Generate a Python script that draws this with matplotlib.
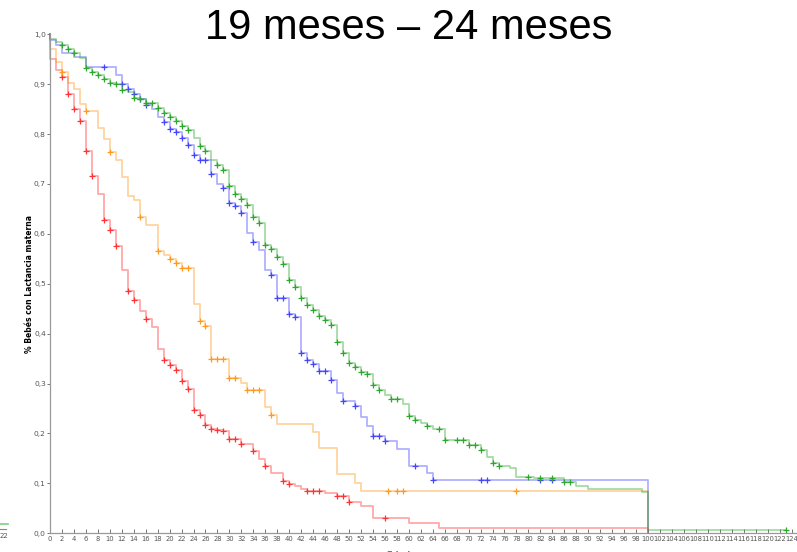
import numpy as np
import matplotlib.pyplot as plt
from matplotlib.lines import Line2D

# Kaplan-Meier curves (month of drop, survival after drop)
red_t = [0, 1, 2, 3, 4, 5, 6, 7, 8, 9, 10, 11, 12, 13, 14, 15, 16, 17, 18, 19, 20,
         21, 22, 23, 24, 25, 26, 27, 28, 29, 30, 32, 34, 35, 36, 37, 39, 40, 41, 42,
         43, 46, 48, 50, 52, 54, 60, 65, 100]
red_s = [0.950, 0.928, 0.915, 0.881, 0.851, 0.827, 0.766, 0.716, 0.680, 0.628,
         0.607, 0.575, 0.528, 0.485, 0.468, 0.445, 0.430, 0.414, 0.369, 0.348,
         0.338, 0.327, 0.305, 0.289, 0.248, 0.237, 0.217, 0.210, 0.207, 0.205,
         0.188, 0.179, 0.164, 0.148, 0.134, 0.120, 0.105, 0.098, 0.094, 0.089,
         0.085, 0.081, 0.075, 0.062, 0.054, 0.030, 0.020, 0.010, 0.0]
red_cens = [2, 3, 4, 5, 6, 7, 9, 10, 11, 13, 14, 16, 19, 20, 21, 22, 23, 24, 25, 26,
            27, 28, 29, 30, 31, 32, 34, 36, 39, 40, 43, 44, 45, 48, 49, 50, 56]

orange_t = [0, 1, 2, 3, 4, 5, 6, 8, 9, 10, 11, 12, 13, 14, 15, 16, 18, 19, 20, 21,
            22, 24, 25, 26, 27, 30, 32, 33, 36, 37, 38, 44, 45, 48, 51, 52, 100]
orange_s = [0.970, 0.945, 0.924, 0.902, 0.891, 0.861, 0.846, 0.812, 0.791, 0.764,
            0.749, 0.715, 0.676, 0.667, 0.633, 0.618, 0.566, 0.558, 0.549, 0.541,
            0.531, 0.459, 0.426, 0.416, 0.349, 0.312, 0.301, 0.287, 0.254, 0.237,
            0.220, 0.204, 0.170, 0.119, 0.101, 0.085, 0.0]
orange_cens = [2, 6, 10, 15, 18, 20, 21, 22, 23, 25, 26, 27, 28, 29, 30, 31, 33, 34,
               35, 37, 56.5, 58, 59, 78]

blue_t = [0, 1, 2, 4, 6, 11, 12, 13, 14, 15, 16, 17, 18, 19, 20, 21, 22, 23, 24, 25,
          27, 28, 29, 30, 31, 32, 33, 34, 35, 36, 37, 38, 40, 41, 42, 43, 44, 45, 47,
          48, 49, 51, 52, 53, 54, 56, 58, 60, 63, 64, 100]
blue_s = [0.989, 0.979, 0.963, 0.955, 0.935, 0.918, 0.900, 0.890, 0.880, 0.870,
          0.859, 0.850, 0.835, 0.825, 0.810, 0.805, 0.793, 0.778, 0.759, 0.749,
          0.721, 0.699, 0.691, 0.661, 0.656, 0.641, 0.602, 0.584, 0.567, 0.528,
          0.518, 0.471, 0.440, 0.433, 0.361, 0.347, 0.340, 0.326, 0.308, 0.282,
          0.266, 0.255, 0.234, 0.215, 0.194, 0.184, 0.169, 0.134, 0.120, 0.107, 0.0]
blue_cens = [9, 12, 13, 14, 15, 16, 19, 20, 21, 22, 23, 24, 25, 26, 27, 29, 30, 31, 32,
             34, 37, 38, 39, 40, 41, 42, 43, 44, 45, 46, 47, 49, 51, 54, 55, 56, 61, 64,
             72, 73, 82, 84]

green_t = list(range(0, 58)) + [59, 60, 61, 62, 63, 64, 66, 70, 72, 73, 74, 75,
                                77, 78, 81, 86, 88, 90, 99, 100]
green_s = [0.990, 0.984, 0.979, 0.970, 0.962, 0.953, 0.933, 0.925, 0.918, 0.910,
           0.903, 0.900, 0.888, 0.884, 0.873, 0.871, 0.863, 0.862, 0.853, 0.843,
           0.835, 0.826, 0.817, 0.808, 0.793, 0.776, 0.767, 0.748, 0.738, 0.729,
           0.695, 0.679, 0.669, 0.658, 0.634, 0.621, 0.578, 0.569, 0.553, 0.540,
           0.508, 0.494, 0.471, 0.458, 0.448, 0.436, 0.428, 0.418, 0.383, 0.362,
           0.341, 0.333, 0.324, 0.320, 0.297, 0.288, 0.277, 0.269,
           0.259, 0.235, 0.227, 0.221, 0.216, 0.210, 0.186, 0.176, 0.167,
           0.152, 0.141, 0.135, 0.130, 0.113, 0.110, 0.103, 0.095, 0.088, 0.083,
           0.007]
green_cens = [2, 3, 4, 6, 7, 8, 9, 10, 11, 12, 14, 15, 16, 17, 18, 19, 20, 21, 22, 23,
              25, 26, 28, 29, 30, 31, 32, 33, 34, 35, 36, 37, 38, 39, 40, 41, 42, 43,
              44, 45, 46, 47, 48, 49, 50, 51, 52, 53, 54, 55, 57, 58, 60, 61, 63, 65,
              66, 68, 69, 70, 71, 72, 74, 75, 80, 82, 84, 86, 87, 123]

groups = [
    (red_t, red_s, red_cens, 100, '#ff3333'),
    (orange_t, orange_s, orange_cens, 100, '#ff9a1f'),
    (blue_t, blue_s, blue_cens, 100, '#4545ff'),
    (green_t, green_s, green_cens, 123, '#2ca82c'),
]

tick_font = ['Liberation Sans Narrow', 'DejaVu Sans']

fig = plt.figure(figsize=(7.97, 5.52), dpi=100)
ax = fig.add_axes([50 / 797, 18.7 / 552, 747 / 797, 499 / 552])

for t, s, cens, t_end, col in groups:
    tt = np.array([0] + t + [t_end], dtype=float)
    ss = np.array([1.0] + s + [s[-1]])
    ax.step(tt, ss, where='post', color=col, alpha=0.42, linewidth=1.3, clip_on=False)
    idx = np.searchsorted(tt, cens, side='right') - 1
    ax.plot(cens, ss[idx], linestyle='none', marker='+', color=col,
            markersize=5, markeredgewidth=0.9, clip_on=False)

ax.set_xlim(0, 747 / 5.98)
ax.set_ylim(0, 1.0)

ax.set_xticks(np.arange(0, 125, 2))
ax.set_xticklabels([str(v) for v in range(0, 125, 2)], fontsize=4.9,
                   color='#555555', family=tick_font)
yt = np.arange(0, 1.01, 0.1)
ax.set_yticks(yt)
ax.set_yticklabels([f"{v:.1f}".replace('.', ',') for v in yt], fontsize=5.4,
                   color='#555555', family=tick_font)
ax.tick_params(axis='x', direction='in', length=3, width=0.7, color='#777777', pad=2)
ax.tick_params(axis='y', direction='out', length=2, width=0.7, color='#777777', pad=1)

for side in ['top', 'right']:
    ax.spines[side].set_visible(False)
for side in ['left', 'bottom']:
    ax.spines[side].set_color('#999999')
    ax.spines[side].set_linewidth(0.9)

ax.set_ylabel('% Bebés con Lactancia materna', fontsize=5.5, fontweight='bold', labelpad=0)

fig.text(0.513, 1 - 28 / 552, '19 meses – 24 meses', fontsize=30,
         family='Liberation Sans', ha='center', va='center')

# x axis label, mostly cut off at the bottom edge as in the source
fig.text(0.53, 1.2 / 552, 'Edad en meses', fontsize=6, fontweight='bold',
         color='#777777', ha='center', va='top')

# fragment of the cropped legend at lower left
fig.add_artist(Line2D([0, 8 / 797], [1 - 524 / 552, 1 - 524 / 552],
                      color='#7fcf7f', linewidth=1.2))
fig.add_artist(Line2D([0, 6 / 797], [1 - 529 / 552, 1 - 529 / 552],
                      color='#888888', linewidth=0.8))
fig.text(0, 1 - 536 / 552, '22', fontsize=5, color='#555555', ha='left', va='center')

plt.savefig('out.png', dpi=100)
